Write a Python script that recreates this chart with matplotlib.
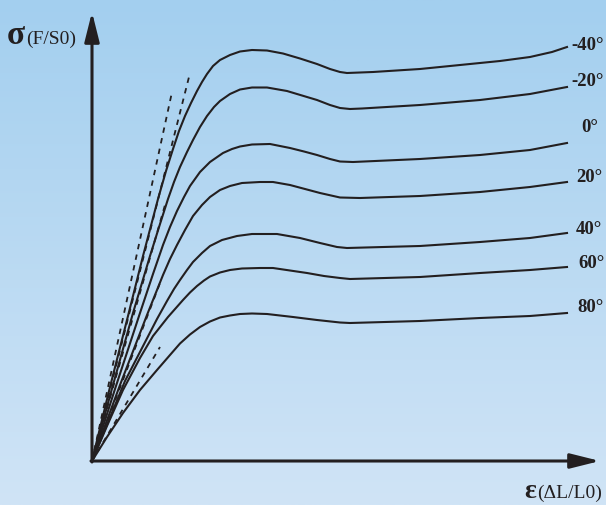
#
# Stress-strain curves at several temperatures
#
import numpy as np
import matplotlib
matplotlib.use("Agg")
import matplotlib.pyplot as plt

# strain / stress (arbitrary units)
strain_m40 = [0, 18, 36, 51, 66, 74, 81, 87, 93, 99, 105, 110, 115, 121, 128, 138, 148, 160, 175, 191,
              208, 225, 238, 248, 255, 268, 281, 328, 368, 408, 438, 460, 475]
stress_m40 = [0, 74, 145, 205, 262, 290, 312, 330, 345, 358, 370, 379, 387, 395, 401, 406, 409.5, 411, 410.5,
              407.5, 402.5, 397, 392, 389, 388, 388.5, 389, 392, 396, 400, 404, 409, 414]

strain_m20 = [0, 21, 41, 58, 68, 76, 82, 88, 95, 101, 108, 115, 122, 128, 138, 148, 160, 175, 195, 210,
              225, 238, 248, 258, 270, 328, 388, 438, 475]
stress_m20 = [0, 76, 148, 205, 237, 262, 279, 294, 309, 321, 334, 345, 354, 360, 367, 371.5, 373.5, 373.5,
              370, 365.5, 361, 356, 353, 352, 352.5, 356, 361, 367, 374]

strain_0 = [0, 23, 48, 61, 71, 78, 85, 92, 98, 108, 118, 131, 140, 148, 160, 178, 198, 212, 225, 238,
            248, 261, 328, 388, 438, 475]
stress_0 = [0, 72, 148, 187, 216, 234, 250, 264, 275, 289, 299, 308, 312, 314.5, 316.5, 317, 313, 309.5,
            306, 302, 299.5, 299, 302, 306, 311, 318]

strain_20 = [0, 28, 55, 71, 78, 85, 93, 101, 110, 118, 128, 138, 150, 168, 181, 198, 213, 228, 248, 268,
             328, 388, 438, 475]
stress_20 = [0, 76, 146, 186, 202, 216, 231, 245, 256, 264, 271, 275, 278, 279, 279, 276, 272, 268, 263.5,
             263, 265, 269, 274, 279]

strain_40 = [0, 33, 65, 75, 82, 88, 95, 101, 110, 118, 130, 145, 160, 185, 208, 228, 245, 255, 328, 388, 438, 475]
stress_40 = [0, 80, 142, 160, 172, 181, 191, 199, 208, 215, 221, 225, 227, 227, 223, 218, 214, 213, 215, 219, 223, 228]

strain_60 = [0, 15, 31, 48, 61, 76, 91, 98, 105, 112, 118, 128, 138, 150, 168, 181, 198, 215, 232, 248,
             258, 328, 388, 438, 475]
stress_60 = [0, 35, 71, 103, 125, 144, 161, 168.5, 175, 180.5, 184.5, 188.5, 191, 192.5, 193, 193, 190.5,
             188, 185, 183, 182, 184, 188, 191, 194]

strain_80 = [0, 15, 31, 48, 65, 78, 88, 98, 108, 118, 128, 138, 148, 160, 175, 201, 225, 248, 258, 328,
             388, 438, 475]
stress_80 = [0, 24, 48, 71, 91, 106, 117.5, 126.5, 134, 139.5, 143.5, 145.5, 147, 147.5, 147, 144, 141, 138.5,
             138, 140, 143, 145, 148]

temps = ['-40°', '-20°', '0°', '20°', '40°', '60°', '80°']

# dashed initial tangents, end points
tangent_x = [80, 98, 73, 68, 68]
tangent_y = [369, 388, 256, 178, 114]

curves = [(strain_m40, stress_m40), (strain_m20, stress_m20), (strain_0, stress_0),
          (strain_20, stress_20), (strain_40, stress_40), (strain_60, stress_60),
          (strain_80, stress_80)]
label_pos = [(479, 416), (479, 379), (489, 333), (484, 284), (484, 232), (486, 198), (485, 153)]

ink = '#231f20'
plt.rcParams['font.family'] = ['Liberation Serif', 'DejaVu Serif']

fig = plt.figure(figsize=(6.06, 5.05), dpi=100)
ax = fig.add_axes([0, 0, 1, 1])
ax.set_xlim(-92, 514)
ax.set_ylim(-44, 461)
ax.axis('off')

# background gradient
grad = np.linspace(0, 1, 256).reshape(-1, 1)
top = np.array([163, 207, 239]) / 255.0
bot = np.array([208, 228, 246]) / 255.0
img = top + (bot - top) * grad[:, :, None]
ax.imshow(img, extent=(-92, 514, -44, 461), aspect='auto', zorder=0, origin='upper')

for (sx, sy), t, (lx, ly) in zip(curves, temps, label_pos):
    ax.plot(sx, sy, color=ink, lw=1.5, solid_joinstyle='round', zorder=3)
    ax.text(lx, ly, t, fontsize=13.5, fontweight='bold', color=ink, va='center', ha='left')

for ex, ey in zip(tangent_x, tangent_y):
    ax.plot([0, ex], [0, ey], color=ink, lw=1.3, ls=(0, (3, 3)), zorder=2)

# axes with arrows
arr = dict(arrowstyle='-|>,head_length=1.8,head_width=0.45', lw=2.2, color=ink,
           mutation_scale=10, shrinkA=0, shrinkB=0)
ax.annotate('', xy=(0, 449), xytext=(0, -1), arrowprops=arr, zorder=4)
ax.annotate('', xy=(508, 0), xytext=(-1, 0), arrowprops=arr, zorder=4)

ax.text(-85, 417, 'σ', fontsize=24, fontweight='bold', color=ink, va='baseline', ha='left')
ax.text(-66, 417, '(F/S0)', fontsize=14, color=ink, va='baseline', ha='left')
ax.text(432, -31, 'ε', fontsize=20, fontweight='bold', color=ink, va='center', ha='left')
ax.text(445, -32, '(ΔL/L0)', fontsize=14, color=ink, va='center', ha='left')

fig.savefig('out.png', dpi=100)
